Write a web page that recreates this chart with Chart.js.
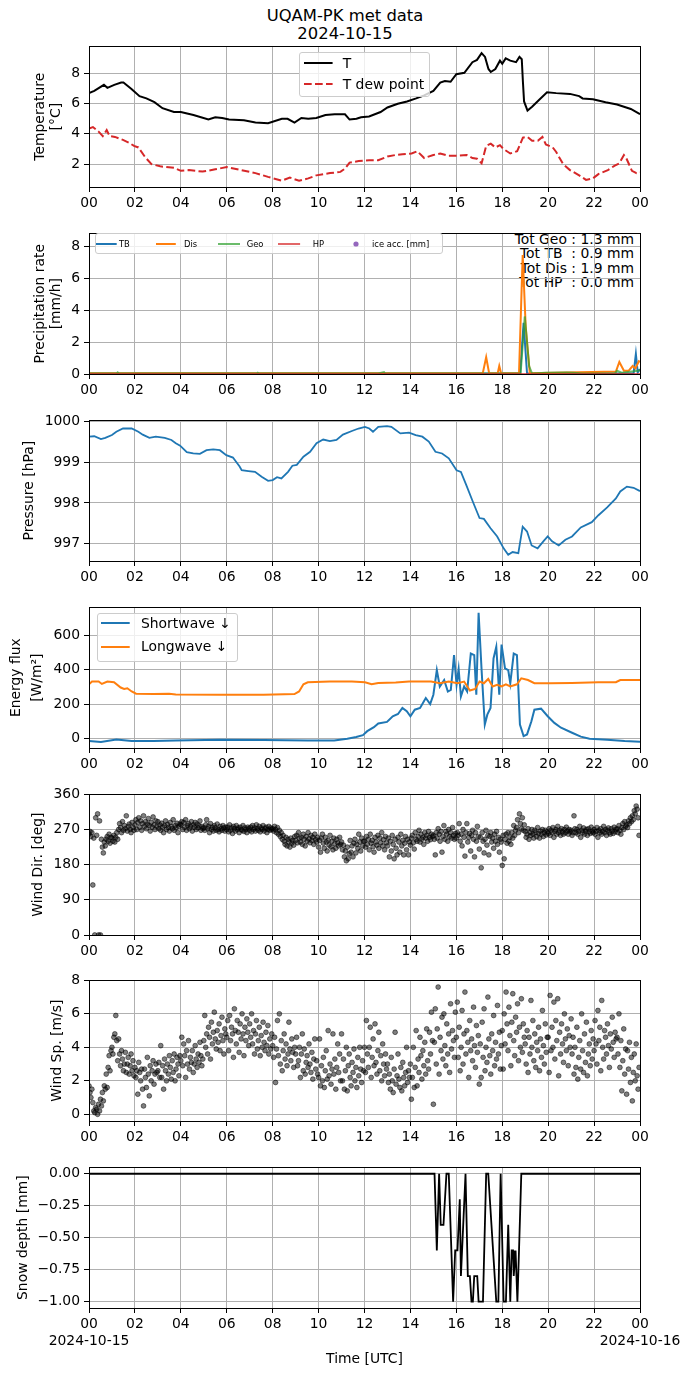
<!DOCTYPE html>
<html>
<head>
<meta charset="utf-8">
<title>UQAM-PK met data</title>
<script src="https://cdn.jsdelivr.net/npm/chart.js@4.4.1/dist/chart.umd.min.js"></script>
<style>
  html, body { margin: 0; padding: 0; background: #fff; overflow: hidden; }
  #page { position: relative; width: 690px; height: 1377px; font-family: 'DejaVu Sans', sans-serif; color: #000; }
  #page canvas { position: absolute; left: 0; }
  .suptitle { position: absolute; left: 0; top: 7px; width: 690px; text-align: center; font-size: 16.4px; line-height: 18px; }
  .legend-box { position: absolute; border: 1px solid #cccccc; border-radius: 3px; background: rgba(255,255,255,0.8); box-sizing: border-box; }
  .legend-text { position: absolute; white-space: pre; }
  .legend-handle { position: absolute; overflow: visible; }
  .totals { position: absolute; right: 56px; top: 232px; text-align: right; white-space: pre; font-size: 13.9px; line-height: 14.3px; }
</style>
</head>
<body>
<div id="page">
  <div class="suptitle">UQAM-PK met data<br>2024-10-15</div>
  <div class="totals">Tot Geo : 1.3 mm
Tot TB  : 0.9 mm
Tot Dis : 1.9 mm
Tot HP  : 0.0 mm</div>
</div>
<script>
// ---- data (hours UTC since 2024-10-15 00:00) ----
const startDate = '2024-10-15';
const endDate = '2024-10-16';
const hourTicks = [0, 2, 4, 6, 8, 10, 12, 14, 16, 18, 20, 22, 24];

// temperature [°C]
const tempTicks = [2, 4, 6, 8];
const tempHours = [0, 0.23, 0.65, 0.8, 1.1, 1.4, 1.5, 1.85, 2.2, 2.5, 2.85, 3.2, 3.7, 4.0, 4.55, 5.2, 5.5, 5.8, 6.1, 6.75, 7.25, 7.8, 8.4, 8.65, 8.95, 9.25, 9.55, 9.9, 10.3, 10.7, 11.15, 11.35, 11.65, 11.85, 12.2, 12.7, 13.0, 13.45, 13.85, 14.25, 14.6, 15.0, 15.3, 15.5, 15.75, 16.0, 16.35, 16.7, 16.9, 17.1, 17.25, 17.4, 17.5, 17.7, 17.9, 18.0, 18.15, 18.35, 18.6, 18.75, 18.85, 18.9, 18.95, 19.1, 19.3, 19.6, 19.95, 20.35, 20.95, 21.35, 21.5, 21.95, 22.5, 23.0, 23.6, 24];
const tempValues = [6.7, 6.85, 7.25, 7.05, 7.25, 7.4, 7.4, 6.98, 6.5, 6.35, 6.1, 5.7, 5.45, 5.45, 5.25, 4.95, 5.1, 5.05, 4.95, 4.9, 4.75, 4.7, 5.0, 5.0, 4.75, 5.05, 5.0, 5.05, 5.25, 5.3, 5.3, 4.95, 5.0, 5.1, 5.15, 5.45, 5.75, 6.0, 6.15, 6.35, 6.55, 6.85, 7.4, 7.5, 7.45, 7.95, 8.05, 8.75, 8.9, 9.35, 9.1, 8.3, 8.1, 8.3, 8.85, 8.65, 9.0, 8.85, 8.75, 9.1, 8.95, 7.45, 6.15, 5.55, 5.8, 6.25, 6.75, 6.7, 6.65, 6.5, 6.35, 6.3, 6.1, 5.95, 5.65, 5.3];
const dewHours = [0, 0.17, 0.42, 0.6, 0.77, 0.9, 1.13, 1.48, 1.76, 1.96, 2.15, 2.45, 2.72, 3.1, 3.7, 4.0, 4.35, 4.95, 5.5, 6.0, 6.55, 7.25, 7.8, 8.4, 8.75, 9.15, 9.55, 9.9, 10.5, 10.95, 11.15, 11.35, 11.75, 12.2, 12.6, 13.0, 13.35, 13.65, 14.05, 14.3, 14.6, 15.0, 15.3, 15.65, 16.05, 16.45, 16.7, 16.9, 17.1, 17.3, 17.5, 17.7, 17.9, 18.05, 18.35, 18.65, 18.9, 19.1, 19.3, 19.55, 19.75, 19.9, 20.2, 20.35, 20.65, 20.95, 21.35, 21.65, 21.95, 22.2, 22.6, 22.9, 23.1, 23.3, 23.4, 23.65, 23.85, 24];
const dewValues = [4.35, 4.45, 4.15, 3.85, 4.25, 3.85, 3.8, 3.6, 3.4, 3.2, 3.1, 2.45, 2.0, 1.85, 1.75, 1.55, 1.6, 1.5, 1.65, 1.8, 1.62, 1.4, 1.15, 0.9, 1.1, 0.9, 1.05, 1.25, 1.4, 1.48, 1.7, 2.1, 2.2, 2.25, 2.25, 2.5, 2.6, 2.65, 2.7, 2.85, 2.4, 2.6, 2.7, 2.55, 2.55, 2.6, 2.4, 2.35, 2.05, 3.2, 3.35, 3.1, 3.25, 3.0, 2.7, 2.85, 3.75, 3.8, 3.55, 3.55, 3.8, 3.3, 3.1, 2.8, 2.0, 1.6, 1.25, 0.95, 1.05, 1.35, 1.6, 1.9, 2.05, 2.6, 2.4, 1.55, 1.4, 1.45];

// precipitation rate [mm/h]
const precipTicks = [0, 2, 4, 6, 8];
const tbHours = [0, 18.78, 18.93, 19.08, 23.72, 23.82, 23.9, 24];
const tbValues = [0.03, 0.03, 3.2, 0.03, 0.03, 1.25, 0.1, 0.3];
const disHours = [0, 17.15, 17.3, 17.43, 17.8, 17.87, 17.95, 18.73, 18.89, 19.02, 19.2, 22.95, 23.1, 23.3, 23.5, 23.68, 23.8, 23.95, 24];
const disValues = [0.04, 0.04, 1.05, 0.04, 0.04, 0.5, 0.04, 0.04, 7.45, 3.0, 0.04, 0.15, 0.75, 0.2, 0.2, 0.5, 0.35, 0.8, 0.75];
const geoHours = [0, 1.2, 1.25, 1.3, 7.3, 7.35, 7.4, 12.6, 12.85, 12.9, 18.8, 18.98, 19.17, 19.3, 19.9, 20.8, 21.1, 21.5, 22.9, 23.0, 23.2, 23.9, 24];
const geoValues = [0.03, 0.03, 0.1, 0.03, 0.03, 0.08, 0.03, 0.03, 0.12, 0.03, 0.03, 3.6, 0.5, 0.03, 0.08, 0.1, 0.08, 0.03, 0.03, 0.2, 0.08, 0.2, 0.25];
const hpHours = [0, 24];
const hpValues = [0, 0];

// pressure [hPa]
const presTicks = [997, 998, 999, 1000];
const presHours = [0, 0.23, 0.52, 0.71, 1.0, 1.19, 1.48, 1.86, 2.15, 2.34, 2.63, 2.91, 3.3, 3.59, 3.78, 3.97, 4.26, 4.54, 4.83, 5.12, 5.41, 5.7, 5.98, 6.27, 6.56, 6.65, 6.94, 7.23, 7.52, 7.8, 8.0, 8.19, 8.38, 8.67, 8.86, 9.05, 9.34, 9.63, 9.91, 10.2, 10.49, 10.78, 11.06, 11.45, 11.74, 12.02, 12.21, 12.37, 12.6, 12.98, 13.17, 13.56, 13.94, 14.23, 14.52, 14.8, 15.09, 15.38, 15.67, 16.01, 16.2, 16.43, 16.72, 17.01, 17.2, 17.49, 17.78, 18.06, 18.26, 18.45, 18.7, 18.89, 19.08, 19.28, 19.54, 19.79, 19.98, 20.17, 20.46, 20.75, 21.04, 21.42, 21.9, 22.19, 22.57, 22.95, 23.14, 23.43, 23.72, 24];
const presValues = [999.62, 999.63, 999.56, 999.59, 999.66, 999.74, 999.82, 999.82, 999.74, 999.67, 999.59, 999.62, 999.59, 999.54, 999.46, 999.4, 999.24, 999.21, 999.2, 999.29, 999.31, 999.29, 999.17, 999.11, 998.89, 998.8, 998.78, 998.76, 998.64, 998.54, 998.56, 998.63, 998.6, 998.76, 998.91, 998.93, 999.13, 999.25, 999.46, 999.55, 999.51, 999.54, 999.67, 999.76, 999.82, 999.86, 999.82, 999.74, 999.86, 999.88, 999.86, 999.7, 999.72, 999.66, 999.62, 999.5, 999.25, 999.21, 999.09, 998.8, 998.76, 998.44, 998.03, 997.63, 997.61, 997.38, 997.18, 996.89, 996.73, 996.8, 996.77, 997.42, 997.3, 996.96, 996.89, 997.06, 997.18, 997.06, 996.96, 997.1, 997.18, 997.4, 997.53, 997.7, 997.89, 998.11, 998.28, 998.4, 998.37, 998.29];

// radiation [W/m2]
const fluxTicks = [0, 200, 400, 600];
const swHours = [0, 0.52, 1.19, 1.86, 2.82, 3.78, 5.7, 7.6, 9.53, 10.68, 11.25, 11.64, 11.93, 12.12, 12.41, 12.6, 12.98, 13.23, 13.46, 13.65, 13.84, 14.0, 14.19, 14.42, 14.67, 14.86, 15.0, 15.15, 15.28, 15.47, 15.63, 15.76, 15.9, 16.01, 16.1, 16.2, 16.34, 16.47, 16.63, 16.78, 16.87, 16.97, 17.1, 17.24, 17.35, 17.49, 17.62, 17.74, 17.87, 17.97, 18.12, 18.26, 18.35, 18.5, 18.64, 18.77, 18.93, 19.08, 19.27, 19.4, 19.69, 19.98, 20.27, 20.56, 21.04, 21.42, 21.8, 22.57, 23.33, 24];
const swValues = [-15, -21, -6, -15, -15, -13, -8, -10, -12, -12, -2, 8, 19, 42, 65, 87, 96, 129, 142, 177, 158, 129, 167, 177, 235, 200, 254, 398, 302, 340, 273, 283, 485, 312, 404, 244, 302, 273, 494, 485, 254, 731, 398, 81, 138, 177, 465, 533, 254, 546, 408, 398, 321, 494, 485, 81, 13, 23, 100, 167, 173, 129, 90, 62, 33, 10, -2, -8, -15, -19];
const lwHours = [0, 0.13, 0.42, 0.56, 0.8, 1.09, 1.38, 1.53, 1.67, 1.86, 2.05, 2.82, 3.49, 3.78, 5.7, 7.6, 8.95, 9.15, 9.34, 9.53, 10.49, 11.45, 12.02, 12.31, 12.6, 13.36, 13.94, 14.9, 15.28, 15.67, 16.05, 16.34, 16.59, 16.82, 17.01, 17.2, 17.39, 17.58, 17.78, 17.97, 18.16, 18.35, 18.64, 18.83, 19.12, 19.4, 20.07, 21.03, 22.18, 22.95, 23.14, 24];
const lwValues = [315, 331, 331, 317, 331, 327, 296, 288, 292, 273, 260, 258, 260, 256, 254, 254, 258, 273, 315, 327, 331, 331, 327, 315, 323, 325, 331, 331, 321, 331, 321, 331, 279, 288, 331, 321, 346, 302, 312, 302, 315, 302, 315, 350, 340, 321, 321, 323, 327, 327, 340, 340];

// wind, one sample every 2.5 minutes, one row per hour
const windStepMin = 2.5;
const dirTicks = [0, 90, 180, 270, 360];
const windDirRows = [
  [258, 265, 252, 262, 128, 248, 0, 300, 255, 310, 0, 292, 0, 245, 225, 210, 238, 228, 245, 252, 240, 258, 235, 250],
  [248, 240, 255, 238, 250, 262, 245, 270, 285, 275, 262, 290, 268, 280, 272, 305, 266, 278, 284, 270, 262, 288, 275, 268],
  [282, 295, 270, 288, 300, 276, 292, 268, 285, 305, 278, 290, 272, 284, 298, 280, 266, 288, 276, 302, 282, 270, 292, 278],
  [290, 272, 282, 268, 286, 276, 262, 280, 292, 270, 283, 275, 266, 288, 278, 272, 295, 268, 280, 274, 286, 262, 278, 284],
  [282, 290, 270, 288, 276, 295, 268, 280, 285, 272, 278, 290, 266, 282, 276, 288, 270, 284, 274, 280, 292, 268, 278, 272],
  [275, 268, 282, 295, 272, 278, 262, 285, 270, 276, 266, 280, 274, 268, 284, 270, 264, 278, 272, 268, 280, 274, 266, 276],
  [270, 276, 264, 282, 268, 274, 260, 278, 272, 266, 280, 270, 274, 262, 276, 270, 268, 280, 265, 274, 270, 262, 276, 272],
  [268, 276, 264, 280, 270, 274, 266, 282, 272, 268, 278, 264, 274, 270, 280, 266, 272, 276, 262, 270, 278, 268, 274, 270],
  [272, 266, 278, 270, 262, 275, 258, 268, 252, 262, 245, 255, 240, 232, 250, 228, 245, 238, 225, 248, 235, 242, 230, 252],
  [242, 255, 236, 262, 248, 238, 250, 232, 258, 245, 228, 252, 240, 262, 246, 236, 255, 242, 250, 232, 258, 244, 238, 250],
  [225, 242, 212, 248, 258, 235, 222, 250, 238, 215, 242, 230, 255, 226, 240, 218, 248, 234, 222, 245, 236, 228, 250, 232],
  [238, 218, 230, 200, 215, 190, 225, 195, 208, 242, 212, 228, 200, 235, 245, 210, 232, 222, 258, 238, 215, 248, 228, 240],
  [240, 225, 252, 232, 245, 218, 258, 235, 242, 226, 212, 250, 238, 230, 255, 222, 248, 236, 262, 228, 244, 218, 252, 236],
  [228, 248, 200, 240, 215, 255, 232, 195, 245, 222, 205, 250, 238, 212, 258, 228, 242, 205, 235, 252, 218, 245, 205, 238],
  [230, 248, 255, 236, 220, 262, 245, 240, 252, 268, 238, 258, 245, 250, 232, 262, 248, 255, 240, 265, 250, 244, 258, 252],
  [255, 245, 205, 262, 248, 272, 258, 240, 265, 212, 252, 280, 245, 265, 258, 240, 270, 252, 262, 248, 275, 255, 245, 260],
  [248, 262, 255, 285, 240, 258, 228, 270, 250, 202, 262, 285, 238, 250, 260, 215, 255, 268, 245, 200, 262, 240, 278, 252],
  [220, 250, 172, 262, 240, 210, 245, 268, 230, 255, 205, 252, 262, 238, 248, 222, 258, 240, 265, 232, 250, 212, 245, 238],
  [178, 255, 195, 245, 258, 235, 262, 240, 250, 232, 262, 248, 280, 255, 268, 275, 295, 262, 310, 285, 272, 300, 268, 282],
  [265, 250, 258, 272, 245, 262, 255, 270, 258, 248, 268, 262, 252, 275, 260, 248, 266, 258, 270, 252, 262, 268, 256, 264],
  [260, 272, 255, 268, 262, 275, 250, 265, 270, 258, 278, 262, 268, 255, 272, 264, 258, 270, 262, 276, 266, 258, 270, 264],
  [268, 255, 262, 305, 272, 262, 270, 258, 265, 278, 250, 268, 262, 274, 258, 266, 270, 255, 272, 264, 260, 276, 266, 262],
  [270, 258, 265, 275, 250, 268, 262, 272, 258, 265, 278, 262, 270, 255, 268, 274, 262, 258, 272, 266, 260, 276, 264, 270],
  [272, 262, 280, 268, 258, 275, 285, 270, 290, 278, 282, 275, 292, 285, 300, 290, 305, 295, 318, 310, 330, 322, 300, 255]
];
const spTicks = [0, 2, 4, 6, 8];
const windSpRows = [
  [1.7, 1.3, 1.0, 1.5, 0.7, 0.2, 0.1, 0.4, 0.3, 0.0, 0.6, 0.2, 0.9, 0.5, 1.3, 0.8, 1.7, 1.5, 2.4, 1.6, 2.8, 3.5, 2.6, 3.8],
  [4.0, 3.6, 4.6, 4.8, 5.9, 4.4, 3.2, 4.5, 3.6, 2.9, 3.8, 3.3, 2.6, 3.0, 3.7, 2.5, 3.0, 3.4, 2.4, 2.9, 3.6, 2.6, 3.2, 2.3],
  [2.8, 2.2, 2.6, 1.2, 3.1, 2.5, 2.0, 2.7, 1.5, 0.5, 2.7, 2.2, 1.6, 3.4, 2.4, 1.1, 2.9, 2.0, 2.6, 3.2, 1.8, 2.4, 3.0, 2.5],
  [2.6, 3.1, 2.2, 4.1, 2.2, 2.9, 1.5, 3.3, 2.6, 2.0, 3.0, 2.4, 3.5, 2.8, 2.1, 3.2, 2.5, 3.6, 2.0, 2.7, 3.4, 3.0, 2.3, 3.5],
  [3.2, 4.6, 2.9, 4.2, 3.5, 2.2, 3.8, 3.0, 4.4, 2.7, 3.4, 3.1, 3.8, 2.5, 3.0, 4.1, 3.3, 2.8, 3.6, 3.1, 4.3, 3.5, 2.9, 3.3],
  [4.4, 5.9, 4.0, 4.8, 3.6, 5.2, 4.6, 3.3, 5.5, 4.2, 4.9, 6.1, 4.5, 3.9, 5.0, 4.3, 5.4, 3.8, 4.7, 5.8, 4.4, 3.6, 5.1, 4.8],
  [4.6, 5.6, 3.8, 5.9, 4.4, 5.2, 4.8, 3.4, 6.3, 5.0, 4.2, 5.6, 4.9, 3.7, 5.4, 4.5, 6.0, 4.8, 3.5, 5.2, 4.4, 5.7, 4.9, 4.1],
  [5.4, 4.6, 6.0, 4.2, 5.0, 3.6, 4.8, 5.6, 3.9, 4.4, 5.2, 3.5, 4.7, 4.0, 5.5, 4.3, 3.8, 4.9, 4.1, 5.3, 3.6, 4.5, 3.9, 4.8],
  [4.1, 3.4, 4.6, 1.9, 3.9, 5.6, 3.5, 6.0, 3.0, 4.4, 2.6, 3.8, 4.8, 3.3, 4.2, 2.9, 3.6, 5.5, 3.9, 3.2, 4.5, 3.7, 2.8, 4.0],
  [3.6, 4.6, 2.9, 3.2, 4.0, 2.2, 3.6, 4.8, 2.6, 3.9, 2.4, 3.1, 3.5, 2.8, 4.2, 3.0, 2.5, 3.7, 2.1, 3.3, 4.5, 2.7, 3.2, 2.4],
  [2.2, 4.5, 1.7, 2.9, 2.0, 3.4, 1.6, 2.6, 3.8, 2.1, 5.0, 2.3, 3.0, 1.8, 2.7, 4.8, 2.4, 3.3, 1.5, 2.8, 4.2, 2.5, 3.6, 2.0],
  [4.8, 2.0, 3.3, 1.5, 2.6, 4.0, 1.4, 2.9, 3.6, 2.2, 1.7, 3.1, 2.5, 3.9, 2.0, 2.8, 1.6, 3.4, 2.3, 4.0, 2.7, 1.9, 3.2, 2.6],
  [4.0, 2.5, 5.6, 3.6, 2.8, 4.0, 5.2, 2.2, 3.4, 4.5, 2.9, 5.4, 3.1, 2.4, 3.8, 4.9, 2.6, 3.5, 2.0, 4.2, 3.0, 2.3, 3.6, 2.7],
  [3.0, 1.9, 2.4, 1.5, 3.4, 2.0, 1.3, 2.7, 4.9, 1.8, 2.3, 3.6, 2.1, 1.6, 2.8, 1.4, 3.1, 2.2, 1.7, 2.5, 4.0, 1.9, 2.6, 2.2],
  [3.0, 0.9, 2.2, 4.0, 1.6, 2.8, 5.0, 1.7, 3.3, 2.5, 4.6, 3.5, 2.1, 3.8, 2.9, 4.3, 2.4, 5.1, 3.2, 2.7, 4.9, 3.6, 6.1, 4.4],
  [0.6, 4.3, 6.3, 3.0, 5.1, 7.6, 2.4, 4.6, 3.8, 5.8, 3.3, 6.0, 4.1, 2.9, 5.4, 3.6, 4.8, 2.5, 6.6, 3.9, 5.0, 4.4, 3.4, 6.1],
  [4.6, 6.7, 3.4, 5.2, 2.6, 4.0, 6.2, 3.0, 4.8, 7.3, 3.6, 5.0, 4.3, 2.2, 5.6, 3.8, 4.5, 3.2, 6.4, 4.1, 2.8, 5.3, 3.7, 4.7],
  [1.8, 4.2, 2.2, 5.5, 3.4, 6.3, 2.6, 4.0, 3.1, 7.0, 4.5, 3.5, 2.4, 4.8, 3.8, 5.9, 2.9, 4.3, 3.3, 6.5, 3.6, 4.9, 2.7, 4.1],
  [5.0, 2.7, 6.0, 4.2, 7.3, 5.4, 3.8, 6.4, 4.7, 2.9, 5.5, 7.2, 4.4, 3.5, 5.8, 4.9, 6.6, 3.2, 5.2, 4.0, 6.9, 3.7, 5.4, 4.6],
  [4.2, 3.0, 5.0, 2.5, 4.6, 3.6, 6.8, 4.0, 5.6, 3.2, 4.8, 2.8, 4.3, 3.8, 5.2, 2.6, 4.5, 3.4, 6.2, 4.1, 3.0, 5.4, 3.7, 4.6],
  [4.6, 2.5, 7.1, 3.8, 5.2, 4.0, 6.7, 3.3, 5.6, 4.4, 6.9, 2.3, 4.9, 3.6, 5.4, 4.2, 3.1, 6.0, 4.5, 3.8, 5.1, 2.9, 4.7, 4.0],
  [5.7, 3.6, 4.6, 2.4, 4.0, 2.8, 5.2, 2.1, 3.4, 4.4, 2.7, 6.0, 3.8, 2.5, 4.8, 3.1, 5.5, 2.3, 3.6, 4.2, 2.9, 5.0, 3.3, 4.5],
  [3.8, 5.6, 4.2, 3.0, 6.2, 4.4, 5.2, 2.6, 6.8, 4.0, 3.3, 5.0, 4.6, 3.6, 5.4, 4.1, 2.8, 4.8, 3.9, 5.8, 4.3, 3.4, 4.9, 4.5],
  [4.6, 3.6, 6.0, 2.8, 4.4, 1.4, 3.2, 5.1, 2.4, 3.9, 1.2, 3.8, 2.7, 4.3, 1.9, 3.4, 0.8, 2.5, 3.6, 2.0, 4.2, 2.3, 1.5, 2.8]
];

// snow depth [mm]
const snowTicks = [-1, -0.75, -0.5, -0.25, 0];
const snowHours = [0, 15.05, 15.15, 15.25, 15.32, 15.44, 15.57, 15.67, 15.86, 15.95, 16.05, 16.15, 16.2, 16.4, 16.5, 16.59, 16.66, 16.72, 16.78, 16.91, 16.97, 17.16, 17.3, 17.39, 17.74, 17.83, 17.93, 18.06, 18.16, 18.26, 18.35, 18.41, 18.47, 18.5, 18.58, 18.66, 18.73, 18.83, 24];
const snowValues = [0, 0, -0.6, 0, -0.4, -0.4, 0, 0, -1.0, -0.6, -0.6, -0.2, -0.8, 0, -0.8, -0.8, -1.0, -1.0, -0.8, -0.8, -1.0, -1.0, 0, 0, -1.0, -1.0, 0, -1.0, -1.0, -0.4, -1.0, -0.6, -0.6, -0.8, -0.6, -1.0, -0.6, 0, 0];

// ---- layout ----
const PAD_TOP = 10;
const PLOT_H = 143;
const Y_AXIS_W = 89;
const PAD_RIGHT = 50;
const FONT = 13.9;
const GRID = '#b0b0b0';

Chart.defaults.font.family = "'DejaVu Sans', sans-serif";
Chart.defaults.font.size = FONT;
Chart.defaults.color = '#000';

const page = document.getElementById('page');

function toPoints(hours, values) {
  return hours.map((h, i) => ({ x: h, y: values[i] }));
}

function windPoints(rows) {
  return rows.flat().map((v, i) => ({ x: i * windStepMin / 60, y: v }));
}

function lineSet(points, color, width, dash) {
  return {
    data: points,
    borderColor: color,
    borderWidth: width,
    borderDash: dash || [],
    pointRadius: 0,
    tension: 0,
    fill: false
  };
}

function scatterSet(points) {
  return {
    data: points,
    showLine: false,
    pointRadius: 2.4,
    pointBorderWidth: 1,
    pointBorderColor: 'rgba(0,0,0,0.5)',
    pointBackgroundColor: 'rgba(0,0,0,0.5)',
    backgroundColor: 'rgba(0,0,0,0.5)'
  };
}

// black frame around the plot area, like matplotlib spines
const framePlugin = {
  id: 'frame',
  afterDraw(chart) {
    const a = chart.chartArea;
    const ctx = chart.ctx;
    ctx.save();
    ctx.strokeStyle = '#000';
    ctx.lineWidth = 1;
    ctx.strokeRect(Math.round(a.left) + 0.5, Math.round(a.top) + 0.5,
      Math.round(a.right - a.left), Math.round(a.bottom - a.top));
    ctx.restore();
  }
};

function fixedTicks(values) {
  return s => { s.ticks = values.map(v => ({ value: v })); };
}

function yAxis(min, max, ticks, title, titleX, fmt, lh) {
  const lineH = lh || 1.2;
  return {
    type: 'linear',
    min: min,
    max: max,
    afterFit: s => { s.width = Y_AXIS_W; },
    afterBuildTicks: fixedTicks(ticks),
    ticks: {
      padding: 4,
      callback: fmt || (v => String(v))
    },
    grid: { color: GRID, lineWidth: 1, tickLength: 5, tickColor: '#000' },
    border: { color: '#000', width: 1 },
    title: {
      display: true,
      text: title,
      font: { size: FONT, lineHeight: lineH },
      padding: { top: titleX - FONT * lineH / 2, bottom: 0 }
    }
  };
}

function hourLabel(v) {
  return String(v % 24).padStart(2, '0');
}

function makePanel(top, xAxisH, datasets, y, isLast) {
  const canvas = document.createElement('canvas');
  canvas.width = 690;
  canvas.height = PAD_TOP + PLOT_H + xAxisH;
  canvas.style.top = (top - PAD_TOP) + 'px';
  page.appendChild(canvas);

  const x = {
    type: 'linear',
    min: 0,
    max: 24,
    afterFit: s => { s.height = xAxisH; },
    afterBuildTicks: fixedTicks(hourTicks),
    ticks: {
      padding: 3,
      maxRotation: 0,
      autoSkip: false,
      callback: v => {
        if (isLast && v === 0) return [hourLabel(v), startDate];
        if (isLast && v === 24) return [hourLabel(v), endDate];
        return hourLabel(v);
      }
    },
    grid: { color: GRID, lineWidth: 1, tickLength: 5, tickColor: '#000' },
    border: { color: '#000', width: 1 },
    title: isLast
      ? { display: true, text: 'Time [UTC]', padding: { top: 0, bottom: 9.7 } }
      : { display: false }
  };

  return new Chart(canvas.getContext('2d'), {
    type: 'line',
    data: { datasets: datasets },
    options: {
      responsive: false,
      animation: false,
      parsing: false,
      layout: { padding: { top: PAD_TOP, right: PAD_RIGHT, left: 0, bottom: 0 } },
      plugins: { legend: { display: false }, tooltip: { enabled: false } },
      scales: { x: x, y: y }
    },
    plugins: [framePlugin]
  });
}

// legend drawn as html inside the plot area
function addLegend(box, fontSize, entries) {
  const frame = document.createElement('div');
  frame.className = 'legend-box';
  frame.style.left = box[0] + 'px';
  frame.style.top = box[1] + 'px';
  frame.style.width = (box[2] - box[0]) + 'px';
  frame.style.height = (box[3] - box[1]) + 'px';
  page.appendChild(frame);

  const ns = 'http://www.w3.org/2000/svg';
  entries.forEach(e => {
    const svg = document.createElementNS(ns, 'svg');
    svg.setAttribute('class', 'legend-handle');
    svg.setAttribute('width', e.x2 - e.x1);
    svg.setAttribute('height', 10);
    svg.style.left = e.x1 + 'px';
    svg.style.top = (e.y - 5) + 'px';
    if (e.dot) {
      const c = document.createElementNS(ns, 'circle');
      c.setAttribute('cx', (e.x2 - e.x1) / 2);
      c.setAttribute('cy', 5);
      c.setAttribute('r', 2.6);
      c.setAttribute('fill', e.color);
      svg.appendChild(c);
    } else {
      const l = document.createElementNS(ns, 'line');
      l.setAttribute('x1', 0);
      l.setAttribute('x2', e.x2 - e.x1);
      l.setAttribute('y1', 5);
      l.setAttribute('y2', 5);
      l.setAttribute('stroke', e.color);
      l.setAttribute('stroke-width', e.width || 2);
      if (e.dash) l.setAttribute('stroke-dasharray', e.dash);
      svg.appendChild(l);
    }
    page.appendChild(svg);

    const t = document.createElement('div');
    t.className = 'legend-text';
    t.textContent = e.label;
    t.style.fontSize = fontSize + 'px';
    t.style.lineHeight = (fontSize * 1.2) + 'px';
    t.style.left = e.tx + 'px';
    t.style.top = (e.y - fontSize * 0.6) + 'px';
    page.appendChild(t);
  });
}

const fmtSnow = v => v.toFixed(2).replace('-', '\u2212');

// 1. temperature
makePanel(44, 30, [
  lineSet(toPoints(dewHours, dewValues), '#d62728', 2, [7.7, 3.3]),
  lineSet(toPoints(tempHours, tempValues), '#000000', 2)
], yAxis(0.48, 9.8, tempTicks, ['Temperature', '[°C]'], 40));

// 2. precipitation
makePanel(231, 30, [
  lineSet(toPoints(hpHours, hpValues), 'rgba(214,39,40,0.7)', 2),
  lineSet(toPoints(geoHours, geoValues), 'rgba(44,160,44,0.7)', 2),
  lineSet(toPoints(disHours, disValues), '#ff7f0e', 2),
  lineSet(toPoints(tbHours, tbValues), '#1f77b4', 2)
], yAxis(0, 8.8, precipTicks, ['Precipitation rate', '[mm/h]'], 40));

// 3. pressure
makePanel(418, 30, [
  lineSet(toPoints(presHours, presValues), '#1f77b4', 1.8)
], yAxis(996.58, 1000.02, presTicks, 'Pressure [hPa]', 29));

// 4. radiation
makePanel(605, 30, [
  lineSet(toPoints(lwHours, lwValues), '#ff7f0e', 2),
  lineSet(toPoints(swHours, swValues), '#1f77b4', 2)
], yAxis(-56, 763, fluxTicks, ['Energy flux', '[W/m²]'], 16.5, null, 1.5));

// 5. wind direction
makePanel(792, 30, [
  scatterSet(windPoints(windDirRows))
], yAxis(0, 360, dirTicks, 'Wind Dir. [deg]', 38));

// 6. wind speed
makePanel(978, 30, [
  scatterSet(windPoints(windSpRows))
], yAxis(-0.4, 8.0, spTicks, 'Wind Sp. [m/s]', 57.5));

// 7. snow depth
makePanel(1165, 1377 - 1165 - PLOT_H, [
  lineSet(toPoints(snowHours, snowValues), '#000000', 1.8)
], yAxis(-1.05, 0.05, snowTicks, 'Snow depth [mm]', 23, fmtSnow), true);

// legends
addLegend([298.7, 52, 430.4, 97], FONT, [
  { label: 'T', color: '#000', x1: 304, x2: 332.6, tx: 342.7, y: 63.3 },
  { label: 'T dew point', color: '#d62728', dash: '7.7 3.3', x1: 304, x2: 332.6, tx: 342.7, y: 84.3 }
]);

addLegend([94.7, 233, 442.7, 254], 8.4, [
  { label: 'TB', color: '#1f77b4', x1: 96, x2: 116.7, tx: 119, y: 244 },
  { label: 'Dis', color: '#ff7f0e', x1: 156.4, x2: 176.2, tx: 184, y: 244 },
  { label: 'Geo', color: 'rgba(44,160,44,0.7)', x1: 218, x2: 240, tx: 246.7, y: 244 },
  { label: 'HP', color: 'rgba(214,39,40,0.7)', x1: 277.5, x2: 299.6, tx: 312.8, y: 244 },
  { label: 'ice acc. [mm]', color: '#9467bd', dot: true, x1: 346, x2: 366, tx: 372, y: 244 }
]);

addLegend([97, 612.7, 238, 661.7], FONT, [
  { label: 'Shortwave \u2193', color: '#1f77b4', x1: 101.3, x2: 130, tx: 141, y: 623.3 },
  { label: 'Longwave \u2193', color: '#ff7f0e', x1: 101.3, x2: 130, tx: 141, y: 646.7 }
]);
</script>
</body>
</html>
